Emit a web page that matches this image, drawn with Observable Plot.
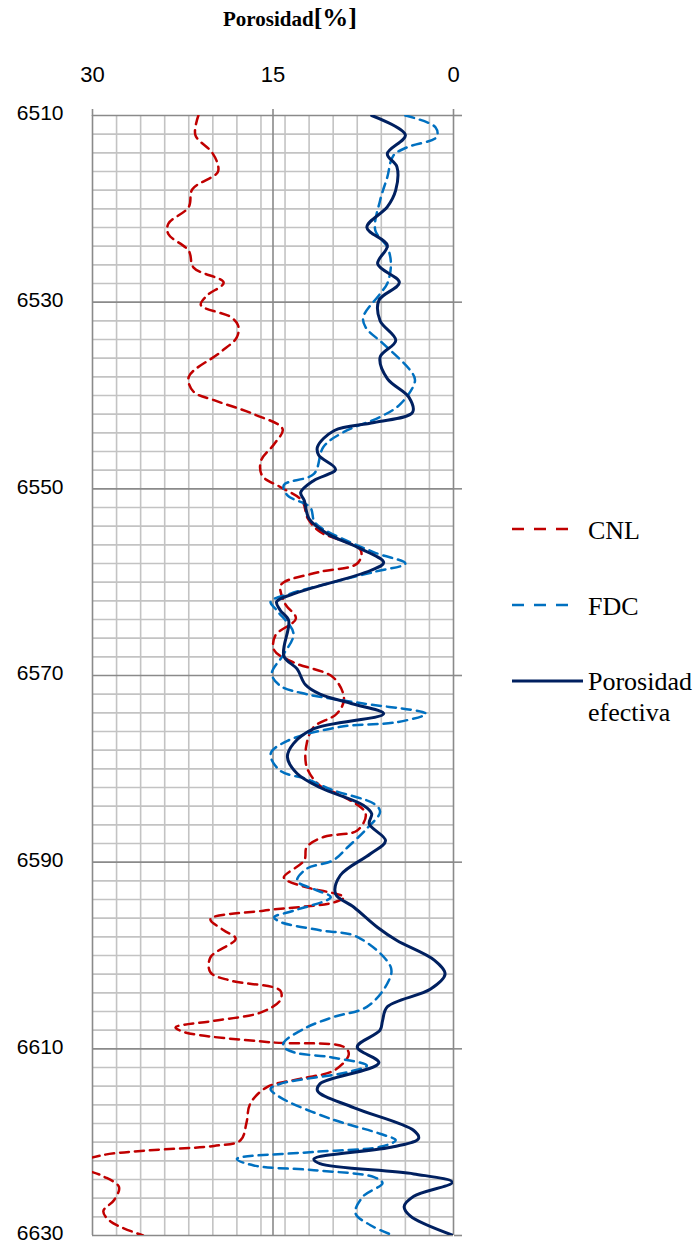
<!DOCTYPE html>
<html><head><meta charset="utf-8">
<script src="https://cdn.jsdelivr.net/npm/d3@7"></script>
<script src="https://cdn.jsdelivr.net/npm/@observablehq/plot@0.6"></script>
<style>
body{margin:0;background:#fff}
#wrap{position:relative;width:696px;height:1244px;overflow:hidden;background:#fff}
#chart{position:absolute;left:0;top:0}
#overlay{position:absolute;left:0;top:0;pointer-events:none}
</style></head><body>
<div id="wrap"><div id="chart"></div>
<svg id="overlay" width="696" height="1244">
  <text x="290" y="26" text-anchor="middle" font-family="Liberation Serif, Times New Roman, serif" font-weight="bold"><tspan font-size="21">Porosidad</tspan><tspan font-size="26">[%]</tspan></text>
  <line x1="512" x2="569" y1="529" y2="529" stroke="#C00000" stroke-width="2.5" stroke-dasharray="12,10"/>
  <text x="588" y="539" font-family="Liberation Serif, Times New Roman, serif" font-size="26">CNL</text>
  <line x1="512" x2="569" y1="605" y2="605" stroke="#0070C0" stroke-width="2.5" stroke-dasharray="12,10"/>
  <text x="588" y="615" font-family="Liberation Serif, Times New Roman, serif" font-size="26">FDC</text>
  <line x1="512" x2="583" y1="681" y2="681" stroke="#002060" stroke-width="3"/>
  <text x="588" y="690" font-family="Liberation Serif, Times New Roman, serif" font-size="26">Porosidad</text>
  <text x="588" y="721" font-family="Liberation Serif, Times New Roman, serif" font-size="26">efectiva</text>
</svg>
</div>
<script>
// Tick values
const xMajor = [0, 15, 30];
const xMinor = [2, 4, 6, 8, 10, 12, 14, 16, 18, 20, 22, 24, 26, 28];
const yMajor = [6510, 6530, 6550, 6570, 6590, 6610, 6630];
const yMinor = [6512, 6514, 6516, 6518, 6520, 6522, 6524, 6526, 6528,
  6532, 6534, 6536, 6538, 6540, 6542, 6544, 6546, 6548,
  6552, 6554, 6556, 6558, 6560, 6562, 6564, 6566, 6568,
  6572, 6574, 6576, 6578, 6580, 6582, 6584, 6586, 6588,
  6592, 6594, 6596, 6598, 6600, 6602, 6604, 6606, 6608,
  6612, 6614, 6616, 6618, 6620, 6622, 6624, 6626, 6628];

// CNL
const cnlDepth = [6510.0, 6512.1, 6513.9, 6515.2, 6516.1, 6517.9, 6519.8, 6521.6, 6522.7, 6524.5,
  6526.3, 6527.9, 6529.3, 6530.3, 6531.6, 6532.5, 6533.75, 6535.4, 6538.0, 6539.6,
  6540.5, 6542.0, 6543.6, 6545.2, 6547.0, 6548.6, 6549.8, 6551.25, 6553.2, 6554.6,
  6556.6, 6558.0, 6558.9, 6560.0, 6560.5, 6562.3, 6563.9, 6565.7, 6567.3, 6568.6,
  6570.2, 6572.5, 6574.1, 6575.5, 6577.3, 6579.8, 6581.8, 6583.0, 6584.8, 6586.6,
  6587.3, 6588.4, 6589.8, 6591.6, 6592.0, 6592.7, 6593.75, 6594.3, 6595.2, 6596.1,
  6597.3, 6598.2, 6600.2, 6601.8, 6602.7, 6603.75, 6604.8, 6606.1, 6607.0, 6607.7,
  6608.2, 6609.3, 6609.8, 6610.6, 6612.3, 6613.2, 6614.1, 6615.9, 6617.9, 6619.8,
  6620.4, 6620.9, 6621.4, 6622.4, 6623.6, 6624.8, 6626.2, 6627.4, 6628.5, 6630.0];
const cnlValue = [21.2, 21.45, 20.1, 19.6, 19.6, 21.7, 22.0, 23.7, 23.7, 22.0,
  21.6, 19.1, 20.5, 21.0, 18.5, 17.9, 18.0, 19.4, 22.0, 21.6,
  19.9, 16.6, 14.2, 14.9, 16.0, 15.9, 14.4, 12.6, 12.1, 11.1,
  7.7, 8.0, 11.1, 14.1, 14.4, 14.0, 13.1, 14.8, 14.9, 13.3,
  10.0, 9.1, 9.7, 11.6, 12.2, 12.2, 11.1, 9.1, 7.3, 8.0,
  10.8, 12.2, 12.4, 14.1, 13.8, 12.2, 9.1, 9.9, 15.8, 20.2,
  19.1, 18.1, 20.2, 20.2, 18.5, 14.4, 14.4, 16.0, 19.9, 23.1,
  22.4, 15.2, 9.1, 8.7, 9.9, 12.7, 15.5, 16.9, 17.2, 17.7,
  19.9, 25.5, 29.2, 31.5, 29.2, 27.8, 28.2, 29.1, 28.5, 25.8];

// FDC
const fdcDepth = [6510.0, 6511.25, 6512.3, 6513.4, 6514.3, 6516.6, 6519.1, 6522.3, 6524.1, 6525.9,
  6528.0, 6529.1, 6531.6, 6532.7, 6534.5, 6537.3, 6538.4, 6540.9, 6542.3, 6543.9,
  6545.5, 6548.4, 6549.6, 6550.7, 6552.0, 6553.4, 6554.1, 6556.8, 6558.0, 6558.9,
  6560.0, 6561.25, 6562.1, 6563.0, 6565.5, 6567.7, 6569.8, 6571.1, 6572.0, 6573.0,
  6574.1, 6575.0, 6575.5, 6577.0, 6578.4, 6580.2, 6581.1, 6582.3, 6583.75, 6584.6,
  6586.4, 6588.4, 6589.8, 6590.7, 6592.0, 6592.9, 6593.75, 6595.2, 6595.9, 6596.4,
  6597.3, 6598.0, 6601.3, 6603.0, 6605.5, 6606.6, 6607.7, 6609.3, 6609.8, 6610.4,
  6610.9, 6611.8, 6612.5, 6613.75, 6614.3, 6615.2, 6617.5, 6619.1, 6619.8, 6620.5,
  6621.05, 6621.8, 6622.5, 6623.0, 6623.75, 6624.4, 6625.8, 6627.6, 6628.9, 6630.0];
const fdcValue = [4.0, 1.5, 1.4, 3.85, 5.0, 5.5, 6.1, 6.5, 5.5, 5.2,
  5.5, 6.1, 7.5, 7.3, 5.8, 3.6, 3.2, 4.4, 6.1, 9.1,
  10.8, 11.6, 14.1, 13.8, 11.9, 11.6, 11.1, 6.6, 4.0, 6.6,
  10.0, 13.6, 15.2, 14.7, 13.3, 14.1, 15.1, 14.4, 12.2, 7.5,
  2.3, 4.7, 9.4, 13.8, 15.2, 14.4, 12.2, 10.0, 6.6, 6.1,
  7.2, 8.8, 10.0, 12.2, 13.0, 11.6, 10.2, 13.3, 14.9, 14.4,
  11.1, 8.0, 5.2, 5.5, 7.2, 10.0, 12.2, 14.1, 14.1, 13.2,
  10.2, 7.2, 8.8, 14.4, 15.2, 14.4, 10.2, 6.1, 4.8, 6.1,
  11.6, 18.0, 16.6, 11.6, 6.6, 5.9, 7.5, 8.15, 6.9, 5.0];

// Porosidad efectiva
const efDepth = [6510.0, 6512.1, 6514.1, 6515.5, 6518.0, 6519.8, 6522.0, 6523.9, 6525.9, 6527.9,
  6529.8, 6532.0, 6534.1, 6535.9, 6538.2, 6540.2, 6541.8, 6542.9, 6543.75, 6545.5,
  6546.4, 6547.9, 6549.1, 6550.4, 6551.25, 6553.2, 6554.8, 6556.25, 6557.9, 6558.75,
  6561.25, 6562.1, 6563.0, 6564.1, 6567.9, 6569.3, 6571.0, 6572.0, 6573.0, 6574.1,
  6575.7, 6577.3, 6578.75, 6580.5, 6582.0, 6583.9, 6584.8, 6585.9, 6587.7, 6589.1,
  6591.4, 6593.4, 6594.8, 6597.0, 6598.4, 6600.5, 6602.0, 6603.6, 6605.5, 6607.0,
  6608.0, 6609.8, 6611.5, 6613.75, 6614.5, 6616.3, 6618.75, 6619.6, 6620.5, 6621.8,
  6622.3, 6623.4, 6624.3, 6625.8, 6626.9, 6627.9, 6630.0];
const efValue = [6.8, 4.0, 5.5, 4.7, 4.8, 5.5, 7.2, 5.5, 6.3, 4.5,
  6.2, 6.1, 4.8, 6.1, 5.5, 3.7, 3.4, 6.6, 9.9, 11.3,
  11.2, 9.8, 11.6, 12.7, 12.4, 12.0, 10.5, 8.0, 5.8, 6.9,
  13.3, 14.7, 14.4, 13.7, 14.1, 13.0, 12.3, 11.1, 8.5, 5.8,
  11.6, 13.3, 13.8, 13.0, 11.1, 7.5, 6.8, 7.0, 5.65, 6.9,
  9.4, 9.8, 8.3, 6.3, 4.7, 1.6, 0.7, 1.9, 5.5, 5.9,
  6.1, 8.0, 6.2, 11.1, 11.3, 8.3, 3.3, 2.9, 5.0, 11.6,
  11.1, 3.3, 0.1, 3.3, 4.1, 3.6, 0.0];

const toRows = (ds, vs) => ds.map((d, i) => ({d, v: vs[i]}));
const cnl = toRows(cnlDepth, cnlValue);
const fdc = toRows(fdcDepth, fdcValue);
const ef = toRows(efDepth, efValue);

const chart = Plot.plot({
  width: 696, height: 1244,
  marginTop: 115, marginBottom: 9, marginLeft: 92, marginRight: 243,
  x: {domain: [0, 30], reverse: true},
  y: {domain: [6510, 6630], reverse: true},
  style: {fontFamily: "Liberation Sans, Arial, sans-serif", fontSize: "21px", background: "white", color: "black"},
  marks: [
    Plot.ruleX(xMinor, {stroke: "#c3c3c3", strokeWidth: 1.6}),
    Plot.ruleY(yMinor, {stroke: "#c3c3c3", strokeWidth: 1.6}),
    Plot.ruleX(xMajor, {stroke: "#8a8a8a", strokeWidth: 1.6}),
    Plot.ruleY(yMajor, {stroke: "#8a8a8a", strokeWidth: 1.6}),
    Plot.axisX({anchor: "top", ticks: xMajor, tickSize: 7, tickPadding: 27, stroke: "#8a8a8a", strokeWidth: 1.6, label: null, fontSize: 22, fill: "black"}),
    Plot.axisY({anchor: "left", ticks: yMajor, tickSize: 0, tickPadding: 29, tickFormat: "d", label: null, fontSize: 21, dy: -2, fill: "black"}),
    Plot.axisY({anchor: "right", ticks: yMajor, tickSize: 8, tickFormat: () => "", label: null, stroke: "#8a8a8a", strokeWidth: 1.6}),
    Plot.line(cnl, {x: "v", y: "d", stroke: "#C00000", strokeWidth: 2.5, strokeDasharray: "9,6", curve: "catmull-rom", clip: true}),
    Plot.line(fdc, {x: "v", y: "d", stroke: "#0070C0", strokeWidth: 2.5, strokeDasharray: "9,6", curve: "catmull-rom", clip: true}),
    Plot.line(ef, {x: "v", y: "d", stroke: "#002060", strokeWidth: 3, curve: "catmull-rom", clip: true})
  ]
});
document.getElementById("chart").appendChild(chart);
</script>
</body></html>
